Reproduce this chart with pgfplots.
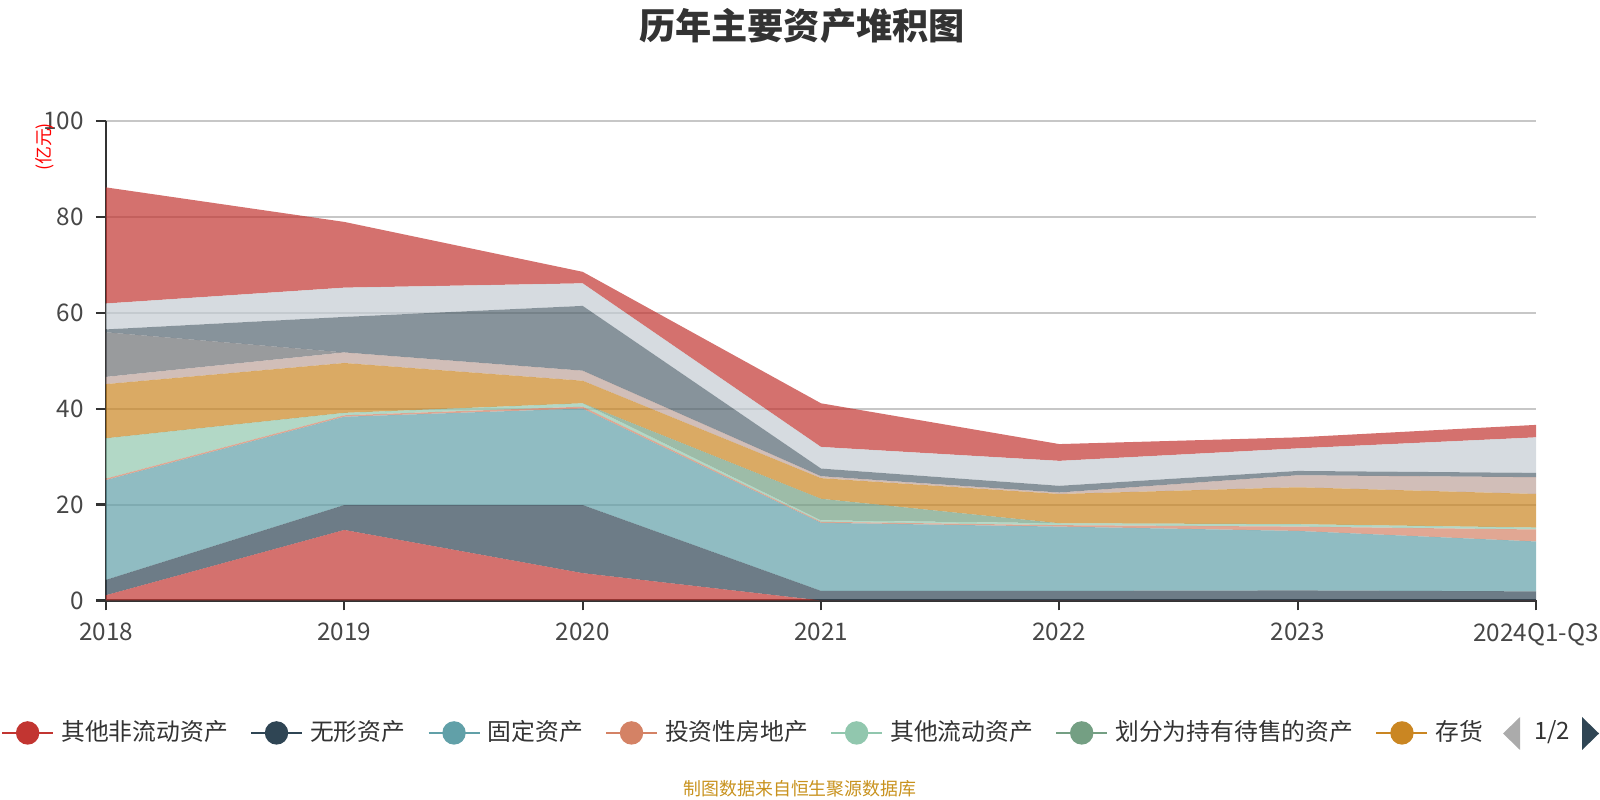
\documentclass[border=0pt]{standalone}
\usepackage{fontspec}
\setmainfont{Noto Sans CJK SC}
\usepackage{pgfplots}
\usepackage{pgfplotstable}
\pgfplotsset{compat=1.18}
\definecolor{c1}{HTML}{C23531}
\definecolor{c2}{HTML}{2F4554}
\definecolor{c3}{HTML}{61A0A8}
\definecolor{c4}{HTML}{D48265}
\definecolor{c5}{HTML}{91C7AE}
\definecolor{c6}{HTML}{749F83}
\definecolor{c7}{HTML}{CA8622}
\definecolor{c8}{HTML}{BDA29A}
\definecolor{c9}{HTML}{6E7074}
\definecolor{c10}{HTML}{546570}
\definecolor{c11}{HTML}{C4CCD3}
\definecolor{txt}{HTML}{333333}
\definecolor{src}{HTML}{C8921E}
% columns: a 其他非流动资产, b 无形资产, c 固定资产, d 投资性房地产, e 其他流动资产,
% f 划分为持有待售的资产, g 存货, h..l further series (legend page 2)
\pgfplotstableread{
x a b c d e f g h i j k l
0 1.1 3.2 20.8 0.3 8.4 0 11.3 1.5 9.3 0.6 5.4 24.2
1 14.7 5.2 18.4 0.3 0.5 0 10.4 2.2 0 7.4 6.1 13.7
2 5.7 14.2 20.1 0.4 0.7 0 4.7 2.1 0 13.5 4.7 2.4
3 0 2.0 14.2 0.2 0.3 4.5 4.3 0.4 0 1.6 4.5 9.1
4 0 2.0 13.4 0.3 0.4 0 6.1 0.3 0 1.4 5.2 3.5
5 0 2.1 12.4 0.9 0.5 0 7.7 2.5 0 0.9 4.7 2.3
6 0 1.9 10.4 2.5 0.4 0 7.0 3.5 0 0.9 7.4 2.6
}\assets
\begin{document}
\begin{tikzpicture}
\path[use as bounding box] (0,0) rectangle (16,8);
\begin{axis}[
  at={(1.06cm,1.995cm)}, anchor=south west,
  scale only axis, width=14.30cm, height=4.798cm,
  xmin=0, xmax=6, ymin=0, ymax=100,
  xtick={0,1,2,3,4,5,6},
  xticklabels={2018,2019,2020,2021,2022,2023,2024Q1-Q3},
  ytick={0,20,40,60,80,100},
  axis lines*=left,
  axis line style={color=txt, line width=0.6pt},
  tick align=outside, major tick length=0.1cm,
  tick style={color=txt, line width=0.6pt},
  ymajorgrids, grid style={color=black!22, line width=0.55pt},
  ticklabel style={font=\fontsize{6.9}{8}\selectfont, color=txt!90},
  /pgf/number format/assume math mode=true,
  stack plots=y,
  legend columns=-1,
  legend image code/.code={%
    \draw[#1, line width=0.8pt] (0cm,0cm) -- (0.51cm,0cm);
    \fill[#1] (0.255cm,0cm) circle (0.11cm);},
  legend style={at={(-0.0741,-0.276)}, anchor=west, draw=none, fill=none,
    inner sep=0pt, font=\fontsize{6.77}{8}\selectfont, text=txt,
    nodes={inner sep=0.5pt},
    column sep=0.05cm,
    /tikz/every even column/.append style={column sep=0.2cm}},
]
\addlegendimage{color=c1}
\addlegendimage{color=c2}
\addlegendimage{color=c3}
\addlegendimage{color=c4}
\addlegendimage{color=c5}
\addlegendimage{color=c6}
\addlegendimage{color=c7}
\legend{其他非流动资产,无形资产,固定资产,投资性房地产,其他流动资产,划分为持有待售的资产,存货}
\addplot[draw=none, fill=c1, fill opacity=0.7] table[x=x, y=a] {\assets} \closedcycle;
\addplot[draw=none, fill=c2, fill opacity=0.7] table[x=x, y=b] {\assets} \closedcycle;
\addplot[draw=none, fill=c3, fill opacity=0.7] table[x=x, y=c] {\assets} \closedcycle;
\addplot[draw=none, fill=c4, fill opacity=0.7] table[x=x, y=d] {\assets} \closedcycle;
\addplot[draw=none, fill=c5, fill opacity=0.7] table[x=x, y=e] {\assets} \closedcycle;
\addplot[draw=none, fill=c6, fill opacity=0.7] table[x=x, y=f] {\assets} \closedcycle;
\addplot[draw=none, fill=c7, fill opacity=0.7] table[x=x, y=g] {\assets} \closedcycle;
\addplot[draw=none, fill=c8, fill opacity=0.7] table[x=x, y=h] {\assets} \closedcycle;
\addplot[draw=none, fill=c9, fill opacity=0.7] table[x=x, y=i] {\assets} \closedcycle;
\addplot[draw=none, fill=c10, fill opacity=0.7] table[x=x, y=j] {\assets} \closedcycle;
\addplot[draw=none, fill=c11, fill opacity=0.7] table[x=x, y=k] {\assets} \closedcycle;
\addplot[draw=none, fill=c1, fill opacity=0.7] table[x=x, y=l] {\assets} \closedcycle;
\end{axis}
% title
\node[font=\fontsize{10.3}{12}\selectfont\bfseries, text=txt] at (8.02,7.745) {历年主要资产堆积图};
% y axis unit
\node[font=\fontsize{5.1}{6}\selectfont, text=red, rotate=90] at (0.45,6.53) {(亿元)};
% legend pager
\fill[black!33] (15.20,0.50) -- (15.20,0.83) -- (15.03,0.665) -- cycle;
\node[font=\fontsize{6.8}{8}\selectfont, text=txt] at (15.52,0.68) {1/2};
\fill[c2] (15.82,0.50) -- (15.82,0.83) -- (15.99,0.665) -- cycle;
% source
\node[font=\fontsize{5.1}{6}\selectfont, text=src] at (8,0.11) {制图数据来自恒生聚源数据库};
\end{tikzpicture}
\end{document}
